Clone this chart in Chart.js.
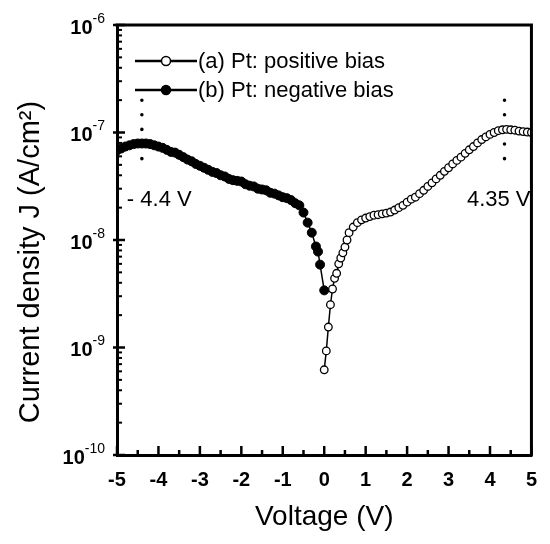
<!DOCTYPE html>
<html>
<head>
<meta charset="utf-8">
<script src="https://cdn.jsdelivr.net/npm/chart.js@4.4.1/dist/chart.umd.min.js"></script>
<style>
  html, body { margin: 0; padding: 0; background: #fff; }
  canvas { display: block; }
</style>
</head>
<body>
<canvas id="chart" width="550" height="544"></canvas>
<script>
// (a) Pt: positive bias -- open circles
const posV = [0, 0.05, 0.1, 0.15, 0.2, 0.25, 0.3, 0.35, 0.4, 0.45, 0.5, 0.55, 0.6,
  0.7, 0.8, 0.9, 1.0, 1.1, 1.2, 1.3, 1.4, 1.5, 1.6,
  1.7, 1.8, 1.9, 2.0, 2.1, 2.2, 2.3, 2.4, 2.5, 2.6,
  2.7, 2.8, 2.9, 3.0, 3.1, 3.2, 3.3, 3.4, 3.5, 3.6,
  3.7, 3.8, 3.9, 4.0, 4.1, 4.2, 4.3, 4.4, 4.5, 4.6,
  4.7, 4.8, 4.9, 5.0];
const posJ = [6.2e-10, 9.3e-10, 1.55e-9, 2.5e-9, 3.5e-9, 4.4e-9, 4.9e-9, 6.0e-9, 6.8e-9, 7.6e-9, 8.6e-9, 1.0e-8, 1.17e-8,
  1.32e-8, 1.45e-8, 1.54e-8, 1.6e-8, 1.65e-8, 1.7e-8, 1.72e-8, 1.75e-8, 1.78e-8, 1.82e-8,
  1.9e-8, 2.0e-8, 2.1e-8, 2.25e-8, 2.4e-8, 2.5e-8, 2.7e-8, 2.9e-8, 3.15e-8, 3.4e-8,
  3.7e-8, 4.0e-8, 4.35e-8, 4.7e-8, 5.1e-8, 5.5e-8, 5.9e-8, 6.4e-8, 6.9e-8, 7.4e-8,
  8.0e-8, 8.6e-8, 9.1e-8, 9.6e-8, 1.0e-7, 1.04e-7, 1.06e-7, 1.07e-7, 1.06e-7, 1.05e-7,
  1.03e-7, 1.02e-7, 1.01e-7, 1.0e-7];

// (b) Pt: negative bias -- filled circles
const negV = [-5.0, -4.9, -4.8, -4.7, -4.6, -4.5, -4.4, -4.3, -4.2, -4.1,
  -4.0, -3.9, -3.8, -3.7, -3.6, -3.5, -3.4, -3.3, -3.2, -3.1,
  -3.0, -2.9, -2.8, -2.7, -2.6, -2.5, -2.4, -2.3, -2.2, -2.1,
  -2.0, -1.9, -1.8, -1.7, -1.6, -1.5, -1.4, -1.3, -1.2, -1.1,
  -1.0, -0.9, -0.8, -0.7, -0.6, -0.5, -0.4, -0.3, -0.2, -0.15, -0.1, 0];
const negJ = [6.8e-8, 7.1e-8, 7.4e-8, 7.6e-8, 7.8e-8, 7.9e-8, 7.9e-8, 7.9e-8, 7.8e-8, 7.6e-8,
  7.4e-8, 7.2e-8, 6.9e-8, 6.6e-8, 6.5e-8, 6.2e-8, 5.9e-8, 5.6e-8, 5.4e-8, 5.1e-8,
  4.9e-8, 4.7e-8, 4.5e-8, 4.3e-8, 4.2e-8, 4.0e-8, 3.9e-8, 3.7e-8, 3.6e-8, 3.55e-8,
  3.5e-8, 3.3e-8, 3.2e-8, 3.15e-8, 3.0e-8, 2.95e-8, 2.9e-8, 2.75e-8, 2.7e-8, 2.6e-8,
  2.5e-8, 2.45e-8, 2.35e-8, 2.2e-8, 2.1e-8, 1.8e-8, 1.45e-8, 1.17e-8, 8.7e-9, 7.8e-9, 5.9e-9, 3.4e-9];

const xTicks = [-5, -4, -3, -2, -1, 0, 1, 2, 3, 4, 5];
const yDecades = [-10, -9, -8, -7, -6];
const seriesNames = ['(a) Pt: positive bias', '(b) Pt: negative bias'];
const yTitle = 'Current density J (A/cm²)';

// peak markers
const peakV = [-4.4, 4.35];
const peakLabels = ['- 4.4 V', '4.35 V'];
const peakSpan = [2.0e-7, 4.2e-8];

const FONT = '"Liberation Sans", Arial, sans-serif';

const decor = {
  id: 'decor',
  beforeDatasetsDraw(chart) {
    const { ctx, scales: { x, y } } = chart;
    ctx.save();
    ctx.strokeStyle = '#000';
    ctx.lineWidth = 3.5;
    ctx.lineCap = 'round';
    ctx.setLineDash([0.1, 14.5]);
    peakV.forEach(v => {
      const px = x.getPixelForValue(v);
      ctx.beginPath();
      ctx.moveTo(px, y.getPixelForValue(peakSpan[0]));
      ctx.lineTo(px, y.getPixelForValue(peakSpan[1]));
      ctx.stroke();
    });
    ctx.restore();
  },
  afterDraw(chart) {
    const { ctx, chartArea: a, scales: { x, y } } = chart;
    ctx.save();
    ctx.setLineDash([]);
    ctx.strokeStyle = '#000';
    ctx.fillStyle = '#000';

    // top + right frame
    ctx.lineWidth = 3;
    ctx.beginPath();
    ctx.moveTo(a.left - 1.5, a.top);
    ctx.lineTo(a.right, a.top);
    ctx.lineTo(a.right, a.bottom + 1.5);
    ctx.stroke();

    // x ticks, inward
    ctx.lineWidth = 2.5;
    xTicks.forEach((v, i) => {
      let px = x.getPixelForValue(v);
      ctx.beginPath(); ctx.moveTo(px, a.bottom); ctx.lineTo(px, a.bottom - 9); ctx.stroke();
      if (i < xTicks.length - 1) {
        px = x.getPixelForValue((v + xTicks[i + 1]) / 2);
        ctx.beginPath(); ctx.moveTo(px, a.bottom); ctx.lineTo(px, a.bottom - 5); ctx.stroke();
      }
    });

    // y ticks, inward, plus labels 10^n
    yDecades.forEach((d, i) => {
      const py = y.getPixelForValue(Math.pow(10, d));
      ctx.lineWidth = 2.5;
      ctx.beginPath(); ctx.moveTo(a.left - 4, py); ctx.lineTo(a.left + 8, py); ctx.stroke();
      if (i < yDecades.length - 1) {
        for (let m = 2; m <= 9; m++) {
          const pm = y.getPixelForValue(m * Math.pow(10, d));
          ctx.lineWidth = 2;
          ctx.beginPath(); ctx.moveTo(a.left, pm); ctx.lineTo(a.left + 5, pm); ctx.stroke();
        }
      }
      const exp = '-' + Math.abs(d);
      ctx.textAlign = 'right';
      ctx.textBaseline = 'middle';
      ctx.font = '14px ' + FONT;
      const ew = ctx.measureText(exp).width;
      ctx.fillText(exp, 105, py - 6);
      ctx.font = 'bold 20px ' + FONT;
      ctx.fillText('10', 105 - ew, py + 3);
    });

    // y axis title
    ctx.save();
    ctx.translate(31, 262);
    ctx.rotate(-Math.PI / 2);
    ctx.font = '29px ' + FONT;
    ctx.textAlign = 'center';
    ctx.textBaseline = 'middle';
    ctx.fillText(yTitle, 0, 0);
    ctx.restore();

    // legend
    const lx0 = a.left + 18, lx1 = a.left + 80;
    [0, 1].forEach(i => {
      const ly = a.top + 36 + i * 29;
      ctx.lineWidth = 2.5;
      ctx.beginPath(); ctx.moveTo(lx0, ly); ctx.lineTo(lx1, ly); ctx.stroke();
      ctx.beginPath();
      ctx.arc((lx0 + lx1) / 2, ly, 4.5, 0, Math.PI * 2);
      ctx.fillStyle = i === 0 ? '#fff' : '#000';
      ctx.fill();
      ctx.lineWidth = 1.5;
      ctx.stroke();
      ctx.fillStyle = '#000';
      ctx.font = '22px ' + FONT;
      ctx.textAlign = 'left';
      ctx.textBaseline = 'middle';
      ctx.fillText(seriesNames[i], lx1 + 1, ly + 1);
    });

    // peak labels
    ctx.font = '22px ' + FONT;
    ctx.textBaseline = 'middle';
    const ty = y.getPixelForValue(peakSpan[1]) + 27;
    ctx.textAlign = 'left';
    ctx.fillText(peakLabels[0], x.getPixelForValue(peakV[0]) - 15, ty);
    ctx.textAlign = 'right';
    ctx.fillText(peakLabels[1], x.getPixelForValue(peakV[1]) + 26, ty);
    ctx.restore();
  }
};

new Chart(document.getElementById('chart').getContext('2d'), {
  type: 'line',
  data: {
    datasets: [
      {
        label: seriesNames[0],
        data: posV.map((v, i) => ({ x: v, y: posJ[i] })),
        borderColor: '#000',
        borderWidth: 1.5,
        pointRadius: 3.8,
        pointBorderWidth: 1.3,
        pointBorderColor: '#000',
        pointBackgroundColor: '#fff',
        order: 0
      },
      {
        label: seriesNames[1],
        data: negV.map((v, i) => ({ x: v, y: negJ[i] })),
        borderColor: '#000',
        borderWidth: 1.5,
        pointRadius: 4.5,
        pointBorderWidth: 1,
        pointBorderColor: '#000',
        pointBackgroundColor: '#000',
        order: 1
      }
    ]
  },
  options: {
    responsive: false,
    animation: false,
    layout: { padding: { left: 0, right: 17, top: 25, bottom: 0 } },
    plugins: { legend: { display: false }, tooltip: { enabled: false } },
    scales: {
      x: {
        type: 'linear',
        min: -5,
        max: 5,
        afterFit: (s) => { s.height = 89; },
        afterBuildTicks: (s) => { s.ticks = xTicks.map(v => ({ value: v })); },
        grid: { display: false, drawTicks: false },
        border: { display: true, color: '#000', width: 3 },
        ticks: { color: '#000', font: { family: FONT, size: 20, weight: 'bold' }, padding: 13, maxRotation: 0 },
        title: { display: true, text: 'Voltage (V)', color: '#000', font: { family: FONT, size: 28, lineHeight: 1.6 } }
      },
      y: {
        type: 'logarithmic',
        min: 1e-10,
        max: 1e-6,
        afterFit: (s) => { s.width = 117; },
        grid: { display: false, drawTicks: false },
        border: { display: true, color: '#000', width: 3 },
        ticks: { display: false },
        title: { display: false }
      }
    }
  },
  plugins: [decor]
});
</script>
</body>
</html>
